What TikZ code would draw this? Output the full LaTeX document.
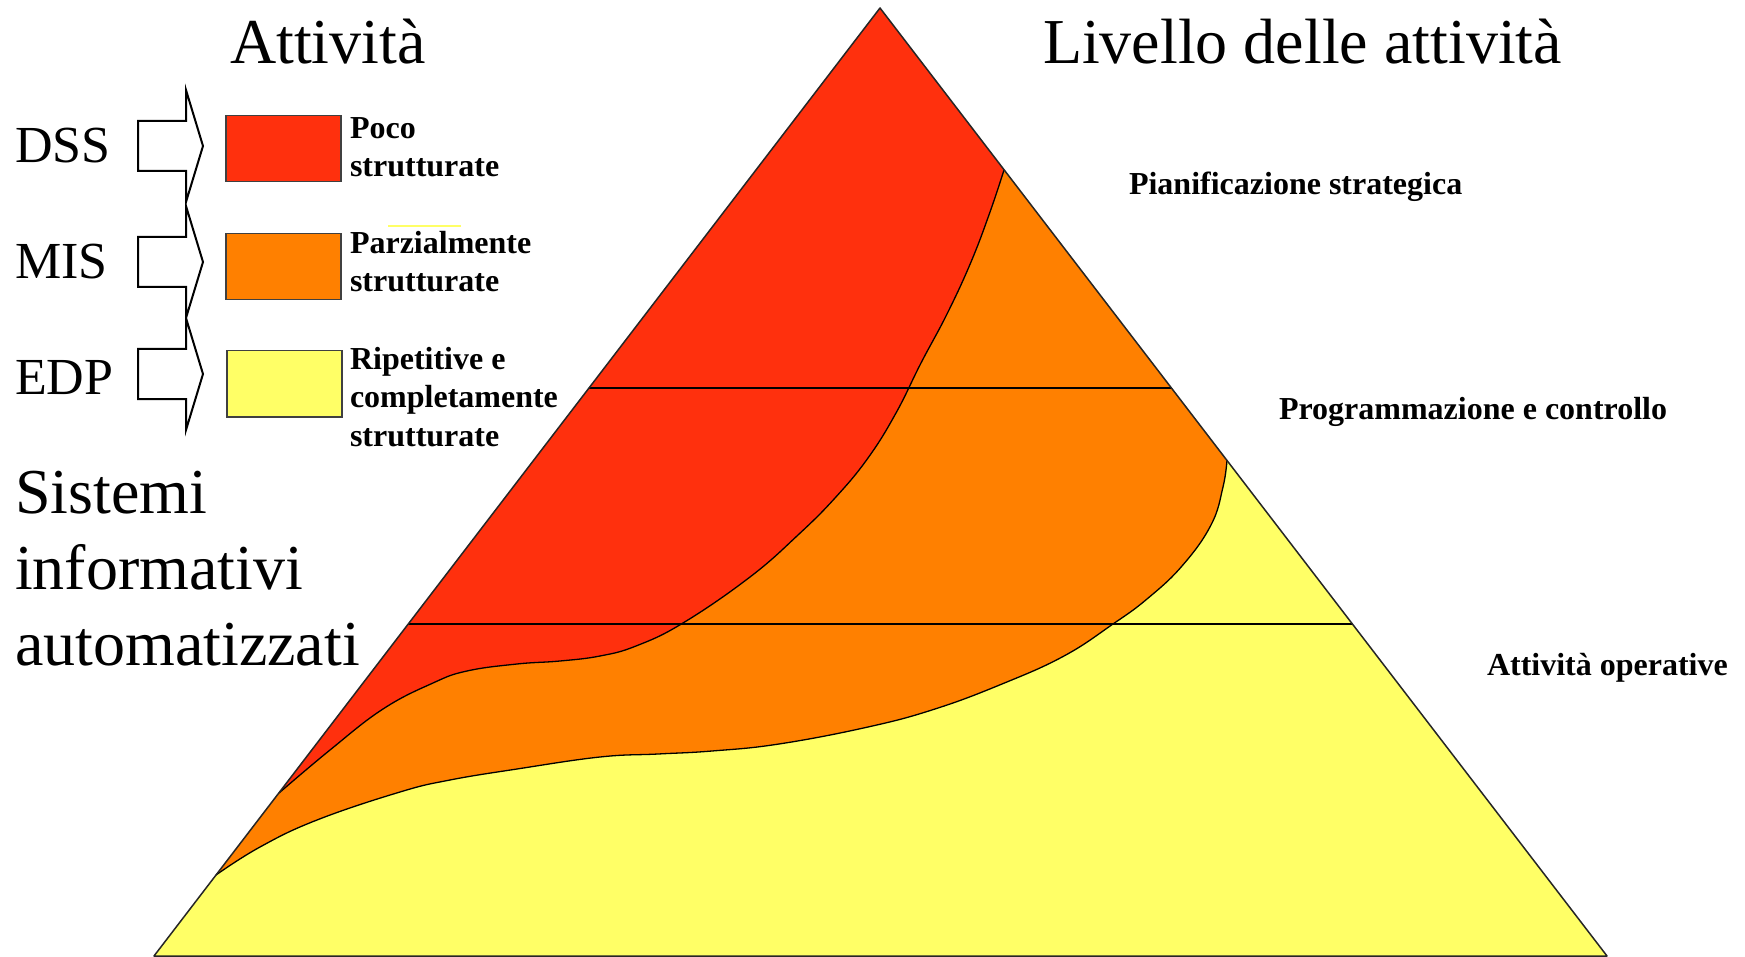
\documentclass[tikz,border=0pt]{standalone}
\usepackage{fontspec}
\setmainfont{Liberation Serif}
\definecolor{redA}{RGB}{255,48,13}
\definecolor{orgA}{RGB}{255,128,0}
\definecolor{yelA}{RGB}{255,255,102}
\begin{document}
\begin{tikzpicture}[x=1pt,y=-1pt,
  title/.style={font=\fontsize{64}{76}\selectfont, anchor=base west, inner sep=0pt, outer sep=0pt, align=left},
  sys/.style={font=\fontsize{52}{60}\selectfont, anchor=base west, inner sep=0pt, outer sep=0pt},
  lbl/.style={font=\bfseries\fontsize{32}{38.5}\selectfont, anchor=base west, inner sep=0pt, outer sep=0pt, align=left},
  legbox/.style={draw=black!75, line width=1.5pt, minimum width=115pt, minimum height=66pt, anchor=north west, inner sep=0pt},
  blockarrow/.style={draw=black, line width=2pt, fill=white, line join=miter},
  curve/.style={draw=black, line width=1.3pt},
  hline/.style={draw=black, line width=1.8pt},
  edge/.style={draw=black!85, line width=1.5pt, line join=round}
]
\useasboundingbox (0,0) rectangle (1745,957);

% pyramid vertices
\coordinate (apex) at (880,8);
\coordinate (bl) at (154,956);
\coordinate (br) at (1607,956);
\coordinate (ro1) at (1004,170);
\coordinate (ro2) at (279,793);
\coordinate (oy1) at (1227,460);
\coordinate (oy2) at (216,875);
\coordinate (h1l) at (589,388);
\coordinate (h1r) at (1171,388);
\coordinate (h2l) at (408,624);
\coordinate (h2r) at (1352,624);

\def\oycurve{(1227,460) (1223,487) (1211,525) (1182,566) (1147,599) (1113,624) (1064,656) (1002,684) (935,709) (868,727) (779,744) (712,751) (658,754) (600,757) (517,769) (450,780) (400,792) (317,820) (260,847) (216,875)}
\def\rocurve{(1004,170) (990,212) (971,262) (947,314) (921,363) (896,413) (868,458) (835,498) (798,535) (750,577) (683,623) (636,646) (600,656) (560,661) (517,664) (467,671) (433,683) (383,709) (330,750) (279,793)}

% yellow base
\fill[yelA] (bl) -- (apex) -- (br) -- cycle;
% orange region
\fill[orgA] (oy2) -- (apex) -- (oy1) -- plot[smooth,tension=0.7] coordinates {\oycurve} -- cycle;
% red region
\fill[redA] (ro2) -- (apex) -- (ro1) -- plot[smooth,tension=0.7] coordinates {\rocurve} -- cycle;

% boundaries
\draw[curve] plot[smooth,tension=0.7] coordinates {\oycurve};
\draw[curve] plot[smooth,tension=0.7] coordinates {\rocurve};

\draw[hline] (h1l) -- (h1r);
\draw[hline] (h2l) -- (h2r);
\draw[edge] (bl) -- (apex) -- (br) -- cycle;

% titles
\node[title] (tAtt) at (230,64) {Attività};
\node[title] (tLiv) at (1043,64) {Livello delle attività};

% systems
\node[sys] (dss) at (15,163) {DSS};
\node[sys] (mis) at (15,279) {MIS};
\node[sys] (edp) at (15,395) {EDP};

% block arrows
\draw[blockarrow, shift={(0,146)}] (138,-25) -- (186,-25) -- (186,-56) -- (203,0) -- (186,56) -- (186,25) -- (138,25) -- cycle;
\draw[blockarrow, shift={(0,262)}] (138,-25) -- (186,-25) -- (186,-56) -- (203,0) -- (186,56) -- (186,25) -- (138,25) -- cycle;
\draw[blockarrow, shift={(0,374)}] (138,-25) -- (186,-25) -- (186,-56) -- (203,0) -- (186,56) -- (186,25) -- (138,25) -- cycle;

% legend boxes
\node[legbox, fill=redA] (boxR) at (225,115) {};
\node[legbox, fill=orgA] (boxO) at (225,233) {};
\node[legbox, fill=yelA] (boxY) at (226,350) {};
\draw[yelA, line width=2pt] (388,226) -- (461,226);

% legend labels (anchor = baseline of last line)
\node[lbl] (lR) at (350,177) {Poco\\strutturate};
\node[lbl] (lO) at (350,292) {Parzialmente\\strutturate};
\node[lbl] (lY) at (350,446) {Ripetitive e\\completamente\\strutturate};

% left caption
\node[title] (sia) at (15,665) {Sistemi\\informativi\\automatizzati};

% level labels
\node[lbl] (lv1) at (1129,195) {Pianificazione strategica};
\node[lbl] (lv2) at (1279,419) {Programmazione e controllo};
\node[lbl] (lv3) at (1487,675) {Attività operative};
\end{tikzpicture}
\end{document}
